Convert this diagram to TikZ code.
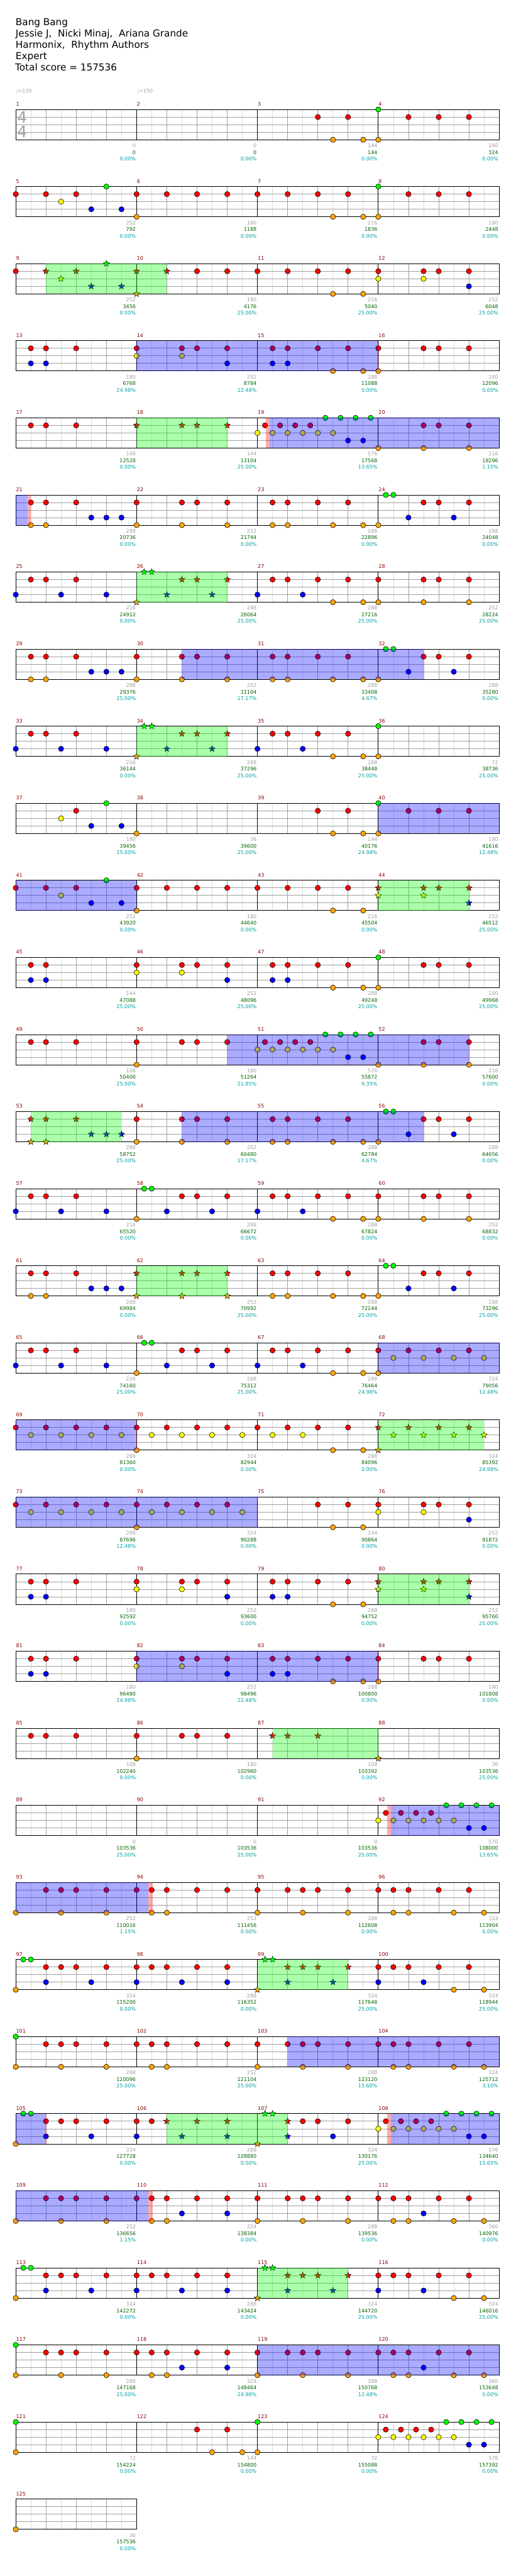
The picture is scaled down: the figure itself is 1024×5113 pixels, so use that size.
\documentclass[tikz,border=0pt]{standalone}
\usepackage{fontspec}
\setmainfont{DejaVu Sans}
\usetikzlibrary{shapes.geometric}
\definecolor{LaneGreen}{HTML}{00FF00}
\definecolor{LaneRed}{HTML}{FF0000}
\definecolor{LaneYellow}{HTML}{FFFF00}
\definecolor{LaneBlue}{HTML}{0000FF}
\definecolor{LaneOrange}{HTML}{FFA500}
\colorlet{lane0}{LaneGreen}
\colorlet{lane1}{LaneRed}
\colorlet{lane2}{LaneYellow}
\colorlet{lane3}{LaneBlue}
\colorlet{lane4}{LaneOrange}
\definecolor{GridBeat}{HTML}{A0A0A0}
\definecolor{GridHalf}{HTML}{DCDCDC}
\definecolor{BarNum}{HTML}{8B0000}
\definecolor{ScoreGray}{HTML}{A0A0A0}
\definecolor{ScoreGreen}{HTML}{006400}
\definecolor{ScoreTeal}{HTML}{00A0A0}
\tikzset{
  halfline/.style={draw=GridHalf,line width=1pt},
  beatline/.style={draw=GridBeat,line width=1pt},
  barline/.style={draw=black,line width=1pt},
  notedot/.style={circle,draw=black,line width=0.7pt,minimum size=10.5pt,inner sep=0pt},
  notestar/.style={star,star points=5,star point ratio=2.3,draw=black,line width=0.6pt,minimum size=13pt,inner sep=0pt},
  barnum/.style={anchor=base west,inner sep=0pt,text=BarNum,font=\fontsize{10}{12}\selectfont},
  scorelbl/.style={anchor=base east,inner sep=0pt,font=\fontsize{10}{12}\selectfont},
  headline/.style={anchor=base west,inner sep=0pt,font=\fontsize{19}{23}\selectfont},
  tempo/.style={anchor=base west,inner sep=0pt,text=ScoreGray,font=\fontsize{10}{12}\selectfont},
  timesig/.style={inner sep=0pt,text=GridBeat,font=\fontsize{31}{31}\selectfont},
  odzone/.style={fill=blue,fill opacity=0.33},
  spzone/.style={fill=green,fill opacity=0.33},
  drzone/.style={fill=red,fill opacity=0.33}
}
% position of a measure: row, column, left x, top y
\newcommand{\mpos}[1]{%
  \pgfmathtruncatemacro\mrow{(#1-1)/4}%
  \pgfmathtruncatemacro\mcol{#1-1-4*\mrow}%
  \pgfmathsetmacro\mx{31.3+240*\mcol}%
  \pgfmathsetmacro\my{217.3+153*\mrow}%
}
\newcommand{\drawmeasure}[1]{%
  \mpos{#1}%
  \foreach \k in {1,3,5,7} \draw[halfline] (\mx+30*\k,\my) -- ++(0,60);
  \foreach \k in {2,4,6} \draw[beatline] (\mx+30*\k,\my) -- ++(0,60);
  \foreach \k in {1,2,3} \draw[beatline] (\mx,\my+15*\k) -- ++(240,0);
  \draw[barline] (\mx,\my) rectangle ++(240,60);
  \node[barnum] (num#1) at (\mx+0.5,\my-7) {#1};
}
% notes of one measure: sixteenth/lane
\newcommand{\mnotes}[3][notedot]{%
  \mpos{#2}%
  \foreach \p/\l in {#3}
    \node[#1,fill=lane\l] (note#2-\p-\l) at (\mx+15*\p,\my+15*\l) {};
}
% shaded phrase on a row, in sixteenths from the row start
\newcommand{\zone}[4]{%
  \pgfmathsetmacro\zy{217.3+153*(#2-1)}%
  \fill[#1] (31.3+15*#3,\zy) rectangle (31.3+15*#4,\zy+60);
}
\begin{document}
\begin{tikzpicture}[x=1pt,y=-1pt]
  \useasboundingbox (0,0) rectangle (1024,5113);
  \fill[white] (0,0) rectangle (1024,5113);
  % heading
  \node[headline] (song) at (31,50) {Bang Bang};
  \node[headline] (artist) at (31,72.5) {Jessie J,\ \ Nicki Minaj,\ \ Ariana Grande};
  \node[headline] (charter) at (31,95) {Harmonix,\ \ Rhythm Authors};
  \node[headline] (level) at (31,118) {Expert};
  \node[headline] (total) at (30,141) {Total score = 157536};
  \node[tempo] (tempo1) at (31,184) {♩=150};
  \node[tempo] (tempo2) at (271.3,184) {♩=150};
  % staves
  \foreach \m in {1,...,125} {\drawmeasure{\m}}
  \node[timesig] (tstop) at (44,233) {4};
  \node[timesig] (tsbot) at (44,262) {4};
  % row 1
  \mnotes{3}{8/1,10/4,12/1,14/4}
  \mnotes{4}{0/0,0/4,4/1,8/1,12/1}
  % row 2
  \mnotes{5}{0/1,4/1,6/2,8/1,10/3,12/0,14/3}
  \mnotes{6}{0/1,0/4,4/1,8/1,12/1}
  \mnotes{7}{0/1,4/1,8/1,10/4,12/1,14/4}
  \mnotes{8}{0/0,0/4,4/1,8/1,12/1}
  % row 3
  \mnotes{9}{0/1}
  \mnotes[notestar]{9}{4/1,6/2,8/1,10/3,12/0,14/3}
  \mnotes[notestar]{10}{0/1,0/4,4/1}
  \mnotes{10}{8/1,12/1}
  \mnotes{11}{0/1,4/1,8/1,10/4,12/1,14/4}
  \mnotes{12}{0/1,0/2,6/1,6/2,8/1,12/1,12/3}
  % row 4
  \mnotes{13}{2/1,2/3,4/1,4/3,8/1}
  \mnotes{14}{0/1,0/2,6/1,6/2,8/1,12/1,12/3}
  \mnotes{15}{2/1,2/3,4/1,4/3,8/1,10/4,12/1,14/4}
  \mnotes{16}{0/1,0/4,6/1,8/1,12/1}
  % row 5
  \mnotes{17}{2/1,4/1,8/1}
  \mnotes[notestar]{18}{0/1,6/1,8/1,12/1}
  \mnotes{19}{0/2,1/1,2/2,3/1,4/2,5/1,6/2,7/1,8/2,9/0,10/2,11/0,12/3,13/0,14/3,15/0}
  \mnotes{20}{0/4,6/1,6/4,8/1,12/1,12/4}
  % row 6
  \mnotes{21}{2/1,2/4,4/1,4/4,8/1,10/3,12/3,14/3}
  \mnotes{22}{0/1,0/4,6/1,6/4,8/1,12/1,12/4}
  \mnotes{23}{2/1,2/4,4/1,4/4,8/1,10/4,12/1,14/4}
  \mnotes{24}{0/4,1/0,2/0,4/3,6/1,8/1,10/3,12/1}
  % row 7
  \mnotes{25}{0/3,2/1,4/1,6/3,8/1,12/3}
  \mnotes[notestar]{26}{0/4,1/0,2/0,4/3,6/1,8/1,10/3,12/1}
  \mnotes{27}{0/3,2/1,4/1,6/3,8/1,10/4,12/1,14/4}
  \mnotes{28}{0/1,0/4,6/1,6/4,8/1,12/1,12/4}
  % row 8
  \mnotes{29}{2/1,2/4,4/1,4/4,8/1,10/3,12/3,14/3}
  \mnotes{30}{0/1,0/4,6/1,6/4,8/1,12/1,12/4}
  \mnotes{31}{2/1,2/4,4/1,4/4,8/1,10/4,12/1,14/4}
  \mnotes{32}{0/4,1/0,2/0,4/3,6/1,8/1,10/3,12/1}
  % row 9
  \mnotes{33}{0/3,2/1,4/1,6/3,8/1,12/3}
  \mnotes[notestar]{34}{0/4,1/0,2/0,4/3,6/1,8/1,10/3,12/1}
  \mnotes{35}{0/3,2/1,4/1,6/3,8/1,10/4,12/1,14/4}
  \mnotes{36}{0/0,0/4}
  % row 10
  \mnotes{37}{6/2,8/1,10/3,12/0,14/3}
  \mnotes{38}{0/4}
  \mnotes{39}{8/1,10/4,12/1,14/4}
  \mnotes{40}{0/0,0/4,4/1,8/1,12/1}
  % row 11
  \mnotes{41}{0/1,4/1,6/2,8/1,10/3,12/0,14/3}
  \mnotes{42}{0/1,0/4,4/1,8/1,12/1}
  \mnotes{43}{0/1,4/1,8/1,10/4,12/1,14/4}
  \mnotes[notestar]{44}{0/1,0/2,6/1,6/2,8/1,12/1,12/3}
  % row 12
  \mnotes{45}{2/1,2/3,4/1,4/3}
  \mnotes{46}{0/1,0/2,6/1,6/2,8/1,12/1,12/3}
  \mnotes{47}{2/1,2/3,4/1,4/3,8/1,10/4,12/1,14/4}
  \mnotes{48}{0/0,0/4,6/1,8/1,12/1}
  % row 13
  \mnotes{49}{2/1,4/1,8/1}
  \mnotes{50}{0/1,0/4,6/1,8/1,12/1}
  \mnotes{51}{0/2,1/1,2/2,3/1,4/2,5/1,6/2,7/1,8/2,9/0,10/2,11/0,12/3,13/0,14/3,15/0}
  \mnotes{52}{0/4,6/1,6/4,8/1,12/1,12/4}
  % row 14
  \mnotes[notestar]{53}{2/1,2/4,4/1,4/4,8/1,10/3,12/3,14/3}
  \mnotes{54}{0/1,0/4,6/1,6/4,8/1,12/1,12/4}
  \mnotes{55}{2/1,2/4,4/1,4/4,8/1,10/4,12/1,14/4}
  \mnotes{56}{0/4,1/0,2/0,4/3,6/1,8/1,10/3,12/1}
  % row 15
  \mnotes{57}{0/3,2/1,4/1,6/3,8/1,12/3}
  \mnotes{58}{0/4,1/0,2/0,4/3,6/1,8/1,10/3,12/1}
  \mnotes{59}{0/3,2/1,4/1,6/3,8/1,10/4,12/1,14/4}
  \mnotes{60}{0/1,0/4,6/1,6/4,8/1,12/1,12/4}
  % row 16
  \mnotes{61}{2/1,2/4,4/1,4/4,8/1,10/3,12/3,14/3}
  \mnotes[notestar]{62}{0/1,0/4,6/1,6/4,8/1,12/1,12/4}
  \mnotes{63}{2/1,2/4,4/1,4/4,8/1,10/4,12/1,14/4}
  \mnotes{64}{0/4,1/0,2/0,4/3,6/1,8/1,10/3,12/1}
  % row 17
  \mnotes{65}{0/3,2/1,4/1,6/3,8/1,12/3}
  \mnotes{66}{0/4,1/0,2/0,4/3,6/1,8/1,10/3,12/1}
  \mnotes{67}{0/3,2/1,4/1,6/3,8/1,10/4,12/1,14/4}
  \mnotes{68}{0/1,0/4,2/2,4/1,6/2,8/1,10/2,12/1,14/2}
  % row 18
  \mnotes{69}{0/1,2/2,4/1,6/2,8/1,10/2,12/1,14/2}
  \mnotes{70}{0/1,0/4,2/2,4/1,6/2,8/1,10/2,12/1,14/2}
  \mnotes{71}{0/1,2/2,4/1,6/2,8/1,10/4,12/1,14/4}
  \mnotes[notestar]{72}{0/1,0/4,2/2,4/1,6/2,8/1,10/2,12/1,14/2}
  % row 19
  \mnotes{73}{0/1,2/2,4/1,6/2,8/1,10/2,12/1,14/2}
  \mnotes{74}{0/1,0/4,2/2,4/1,6/2,8/1,10/2,12/1,14/2}
  \mnotes{75}{8/1,10/4,12/1,14/4}
  \mnotes{76}{0/1,0/2,6/1,6/2,8/1,12/1,12/3}
  % row 20
  \mnotes{77}{2/1,2/3,4/1,4/3,8/1}
  \mnotes{78}{0/1,0/2,6/1,6/2,8/1,12/1,12/3}
  \mnotes{79}{2/1,2/3,4/1,4/3,8/1,10/4,12/1,14/4}
  \mnotes[notestar]{80}{0/1,0/2,6/1,6/2,8/1,12/1,12/3}
  % row 21
  \mnotes{81}{2/1,2/3,4/1,4/3,8/1}
  \mnotes{82}{0/1,0/2,6/1,6/2,8/1,12/1,12/3}
  \mnotes{83}{2/1,2/3,4/1,4/3,8/1,10/4,12/1,14/4}
  \mnotes{84}{0/1,0/4,6/1,8/1,12/1}
  % row 22
  \mnotes{85}{2/1,4/1,8/1}
  \mnotes{86}{0/1,0/4,6/1,8/1,12/1}
  \mnotes[notestar]{87}{2/1,4/1,8/1}
  \mnotes[notestar]{88}{0/4}
  % row 23
  \mnotes{92}{0/2,1/1,2/2,3/1,4/2,5/1,6/2,7/1,8/2,9/0,10/2,11/0,12/3,13/0,14/3,15/0}
  % row 24
  \mnotes{93}{0/4,4/1,6/1,6/4,8/1,12/1,12/4}
  \mnotes{94}{0/1,2/1,2/4,4/1,4/4,8/1,12/1}
  \mnotes{95}{0/1,0/4,4/1,6/1,6/4,8/1,12/1,12/4}
  \mnotes{96}{0/1,2/1,2/4,4/1,4/4,8/1,10/4,12/1,14/4}
  % row 25
  \mnotes{97}{0/4,1/0,2/0,4/1,4/3,6/1,8/1,10/3,12/1}
  \mnotes{98}{0/1,0/3,2/1,4/1,6/3,8/1,12/1,12/3}
  \mnotes[notestar]{99}{0/4,1/0,2/0,4/1,4/3,6/1,8/1,10/3,12/1}
  \mnotes{100}{0/1,0/3,2/1,4/1,6/3,8/1,10/4,12/1,14/4}
  % row 26
  \mnotes{101}{0/0,0/4,4/1,6/1,6/4,8/1,12/1,12/4}
  \mnotes{102}{0/1,2/1,2/4,4/1,4/4,8/1,12/1}
  \mnotes{103}{0/1,0/4,4/1,6/1,6/4,8/1,12/1,12/4}
  \mnotes{104}{0/1,2/1,2/4,4/1,4/4,8/1,10/4,12/1,14/4}
  % row 27
  \mnotes{105}{0/4,1/0,2/0,4/1,4/3,6/1,8/1,10/3,12/1}
  \mnotes{106}{0/1,0/3,2/1}
  \mnotes[notestar]{106}{4/1,6/3,8/1,12/1,12/3}
  \mnotes[notestar]{107}{0/4,1/0,2/0,4/1,4/3}
  \mnotes{107}{6/1,8/1,10/3,12/1}
  \mnotes{108}{0/2,1/1,2/2,3/1,4/2,5/1,6/2,7/1,8/2,9/0,10/2,11/0,12/3,13/0,14/3,15/0}
  % row 28
  \mnotes{109}{0/4,4/1,6/1,6/4,8/1,12/1,12/4}
  \mnotes{110}{0/1,2/1,2/4,4/1,4/4,6/3,8/1,12/1,12/3}
  \mnotes{111}{0/1,0/4,4/1,6/1,6/4,8/1,12/1,12/4}
  \mnotes{112}{0/1,2/1,2/4,4/1,4/4,6/3,8/1,10/4,12/1,14/4}
  % row 29
  \mnotes{113}{0/4,1/0,2/0,4/1,4/3,6/1,8/1,10/3,12/1}
  \mnotes{114}{0/1,0/3,2/1,4/1,6/3,8/1,12/1,12/3}
  \mnotes[notestar]{115}{0/4,1/0,2/0,4/1,4/3,6/1,8/1,10/3,12/1}
  \mnotes{116}{0/1,0/3,2/1,4/1,6/3,8/1,10/4,12/1,14/4}
  % row 30
  \mnotes{117}{0/0,0/4,4/1,6/1,6/4,8/1,12/1,12/4}
  \mnotes{118}{0/1,2/1,2/4,4/1,4/4,6/3,8/1,12/1,12/3}
  \mnotes{119}{0/1,0/4,4/1,6/1,6/4,8/1,12/1,12/4}
  \mnotes{120}{0/1,2/1,2/4,4/1,4/4,6/3,8/1,10/4,12/1,14/4}
  % row 31
  \mnotes{121}{0/0,0/4}
  \mnotes{122}{8/1,10/4,12/1,14/4}
  \mnotes{123}{0/0,0/4}
  \mnotes{124}{0/2,1/1,2/2,3/1,4/2,5/1,6/2,7/1,8/2,9/0,10/2,11/0,12/3,13/0,14/3,15/0}
  % row 32
  \mnotes{125}{0/4}
  % star power and overdrive phrases
  \zone{spzone}{3}{4}{20}
  \zone{odzone}{4}{16}{48}   \zone{drzone}{4}{48}{48.08}
  \zone{spzone}{5}{16}{28}   \zone{drzone}{5}{33.14}{33.6} \zone{odzone}{5}{33.6}{64}
  \zone{odzone}{6}{0}{1.46}  \zone{drzone}{6}{1.46}{2.03}
  \zone{spzone}{7}{16}{28}
  \zone{odzone}{8}{22}{54}   \zone{drzone}{8}{54}{54.08}
  \zone{spzone}{9}{16}{28}
  \zone{odzone}{10}{48}{64}
  \zone{odzone}{11}{0}{16}   \zone{spzone}{11}{48}{60}
  \zone{odzone}{13}{28}{60}  \zone{drzone}{13}{60}{60.08}
  \zone{spzone}{14}{2}{14}   \zone{odzone}{14}{22}{54} \zone{drzone}{14}{54}{54.08}
  \zone{spzone}{16}{16}{28}
  \zone{odzone}{17}{48}{64}
  \zone{odzone}{18}{0}{16}   \zone{drzone}{18}{16}{16.08} \zone{spzone}{18}{48}{62}
  \zone{odzone}{19}{0}{32}
  \zone{spzone}{20}{48}{60}
  \zone{odzone}{21}{16}{48}  \zone{drzone}{21}{48}{48.08}
  \zone{spzone}{22}{34}{48}
  \zone{drzone}{23}{49.2}{49.7} \zone{odzone}{23}{49.7}{64}
  \zone{odzone}{24}{0}{17.56} \zone{drzone}{24}{17.56}{18.1}
  \zone{spzone}{25}{32}{44}
  \zone{odzone}{26}{36}{64}
  \zone{odzone}{27}{0}{4}    \zone{drzone}{27}{4}{4.08} \zone{spzone}{27}{20}{36}
  \zone{drzone}{27}{49.2}{49.7} \zone{odzone}{27}{49.7}{64}
  \zone{odzone}{28}{0}{17.56} \zone{drzone}{28}{17.56}{18.1}
  \zone{spzone}{29}{32}{44}
  \zone{odzone}{30}{32}{64}
  % scores under each measure
  \foreach \m/\a/\b/\c in {1/0/0/0.00,2/0/0/0.00,3/144/144/0.00,4/180/324/0.00,
    5/252/792/0.00,6/180/1188/0.00,7/216/1836/0.00,8/180/2448/0.00,
    9/252/3456/0.00,10/180/4176/25.00,11/216/5040/25.00,12/252/6048/25.00,
    13/180/6768/24.98,14/252/8784/12.48,15/288/11088/0.00,16/180/12096/0.00,
    17/108/12528/0.00,18/144/13104/25.00,19/576/17568/13.65,20/216/19296/1.15,
    21/288/20736/0.00,22/252/21744/0.00,23/288/22896/0.00,24/288/24048/0.00,
    25/216/24912/0.00,26/288/26064/25.00,27/288/27216/25.00,28/252/28224/25.00,
    29/288/29376/25.00,30/252/31104/17.17,31/288/33408/4.67,32/288/35280/0.00,
    33/216/36144/0.00,34/288/37296/25.00,35/288/38448/25.00,36/72/38736/25.00,
    37/180/39456/25.00,38/36/39600/25.00,39/144/40176/24.98,40/180/41616/12.48,
    41/252/43920/0.00,42/180/44640/0.00,43/216/45504/0.00,44/252/46512/25.00,
    45/144/47088/25.00,46/252/48096/25.00,47/288/49248/25.00,48/180/49968/25.00,
    49/108/50400/25.00,50/180/51264/21.85,51/576/55872/9.35,52/216/57600/0.00,
    53/288/58752/25.00,54/252/60480/17.17,55/288/62784/4.67,56/288/64656/0.00,
    57/216/65520/0.00,58/288/66672/0.00,59/288/67824/0.00,60/252/68832/0.00,
    61/288/69984/0.00,62/252/70992/25.00,63/288/72144/25.00,64/288/73296/25.00,
    65/216/74160/25.00,66/288/75312/25.00,67/288/76464/24.98,68/324/79056/12.48,
    69/288/81360/0.00,70/324/82944/0.00,71/288/84096/0.00,72/324/85392/24.98,
    73/288/87696/12.48,74/324/90288/0.00,75/144/90864/0.00,76/252/91872/0.00,
    77/180/92592/0.00,78/252/93600/0.00,79/288/94752/0.00,80/252/95760/25.00,
    81/180/96480/24.98,82/252/98496/12.48,83/288/100800/0.00,84/180/101808/0.00,
    85/108/102240/0.00,86/180/102960/0.00,87/108/103392/0.00,88/36/103536/25.00,
    89/0/103536/25.00,90/0/103536/25.00,91/0/103536/25.00,92/576/108000/13.65,
    93/252/110016/1.15,94/252/111456/0.00,95/288/112608/0.00,96/324/113904/0.00,
    97/324/115200/0.00,98/288/116352/0.00,99/324/117648/25.00,100/324/118944/25.00,
    101/288/120096/25.00,102/252/121104/25.00,103/288/123120/15.60,104/324/125712/3.10,
    105/324/127728/0.00,106/288/128880/0.00,107/324/130176/25.00,108/576/134640/13.65,
    109/252/136656/1.15,110/324/138384/0.00,111/288/139536/0.00,112/360/140976/0.00,
    113/324/142272/0.00,114/288/143424/0.00,115/324/144720/25.00,116/324/146016/25.00,
    117/288/147168/25.00,118/324/148464/24.98,119/288/150768/12.48,120/360/153648/0.00,
    121/72/154224/0.00,122/144/154800/0.00,123/72/155088/0.00,124/576/157392/0.00,
    125/36/157536/0.00}{
    \mpos{\m}
    \node[scorelbl,text=ScoreGray] (pts\m) at (\mx+238.5,\my+75.5) {\a};
    \node[scorelbl,text=ScoreGreen] (sum\m) at (\mx+238.5,\my+88.7) {\b};
    \node[scorelbl,text=ScoreTeal] (pct\m) at (\mx+238.5,\my+101.7) {\c\%};
  }
\end{tikzpicture}
\end{document}
